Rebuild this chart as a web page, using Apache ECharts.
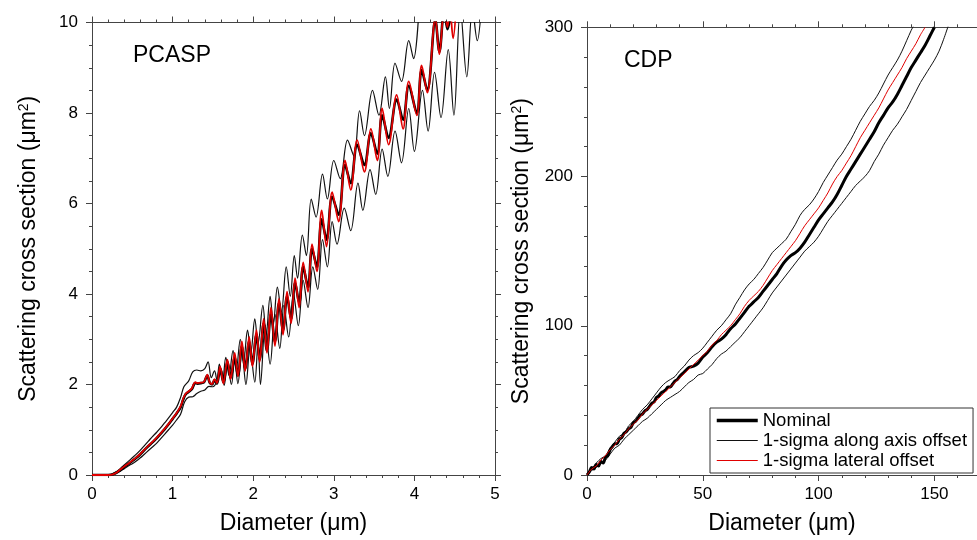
<!DOCTYPE html>
<html>
<head>
<meta charset="utf-8">
<script src="https://cdn.jsdelivr.net/npm/echarts@6/dist/echarts.min.js"></script>
<style>
  html, body { margin: 0; padding: 0; background: #fff; }
  #chart { width: 977px; height: 540px; }
</style>
</head>
<body>
<div id="chart"></div>
<script>
// legend names
const seriesNames = ["Nominal", "1-sigma along axis offset", "1-sigma lateral offset"];

// PCASP: diameter (um), scattering cross section (um^2)
const pcaspNominal = [
  [0,0],[0.1,0],[0.2,0],[0.25,0.01],[0.3,0.05],[0.35,0.11],[0.4,0.18],[0.45,0.24],[0.5,0.31],[0.55,0.38],
  [0.6,0.46],[0.65,0.55],[0.7,0.64],[0.75,0.72],[0.8,0.81],[0.85,0.91],[0.9,1.01],[0.95,1.12],[1.0,1.24],
  [1.05,1.36],[1.1,1.5],[1.13,1.66],[1.16,1.78],[1.2,1.84],[1.24,1.9],[1.28,2.03],[1.31,2.02],[1.35,2.03],
  [1.39,2.05],[1.43,2.2],[1.46,2.04],[1.49,2.0],[1.52,2.1],[1.55,2.02],
  [1.59,2.35],[1.63,2.05],[1.68,2.5],[1.72,2.15],[1.77,2.6],[1.81,2.2],[1.86,2.85],[1.9,2.35],[1.95,2.95],
  [1.99,2.45],[2.04,3.1],[2.08,2.55],[2.13,3.35],[2.17,2.75],[2.22,3.55],[2.27,2.95],[2.32,3.8],[2.37,3.2],
  [2.42,3.95],[2.47,3.45],[2.52,4.25],[2.57,3.8],[2.62,4.6],[2.68,4.15],[2.73,5.0],[2.79,4.6],[2.85,5.65],
  [2.91,5.2],[2.98,6.15],[3.06,5.75],[3.14,6.85],[3.21,6.45],[3.29,7.3],[3.38,6.85],[3.46,7.55],[3.54,7.1],
  [3.6,7.95],[3.68,7.45],[3.78,8.3],[3.86,7.85],[3.93,8.6],[4.03,8.0],[4.09,8.95],[4.16,8.5],[4.26,10.05],
  [4.31,9.35],[4.37,10.3],[4.41,9.85],[4.47,10.4]
];
const pcaspLateral = [
  [0,0],[0.2,0],[0.25,0.01],[0.3,0.05],[0.35,0.12],[0.4,0.19],[0.45,0.25],[0.5,0.32],[0.55,0.39],[0.6,0.47],
  [0.65,0.56],[0.7,0.65],[0.75,0.73],[0.8,0.82],[0.85,0.92],[0.9,1.02],[0.95,1.13],[1.0,1.25],[1.05,1.37],
  [1.1,1.52],[1.13,1.68],[1.16,1.79],[1.2,1.85],[1.24,1.92],[1.28,2.05],[1.31,2.03],[1.35,2.04],[1.39,2.06],
  [1.43,2.22],[1.46,2.05],[1.49,2.01],[1.52,2.12],[1.55,2.03],
  [1.59,2.4],[1.63,2.02],[1.68,2.55],[1.72,2.12],[1.77,2.7],[1.81,2.18],[1.86,2.95],[1.9,2.3],[1.95,3.05],
  [1.99,2.4],[2.04,3.2],[2.08,2.5],[2.13,3.45],[2.17,2.7],[2.22,3.7],[2.27,2.85],[2.32,3.9],[2.37,3.1],
  [2.42,4.05],[2.47,3.35],[2.52,4.35],[2.57,3.7],[2.62,4.7],[2.68,4.05],[2.73,5.1],[2.79,4.5],[2.85,5.85],
  [2.91,5.05],[2.98,6.25],[3.06,5.6],[3.14,6.95],[3.21,6.3],[3.29,7.4],[3.38,6.7],[3.46,7.65],[3.54,6.95],
  [3.6,8.1],[3.68,7.3],[3.78,8.4],[3.86,7.65],[3.93,8.7],[4.03,7.95],[4.09,9.05],[4.16,8.45],[4.26,10.1],
  [4.31,9.3],[4.37,10.3],[4.41,9.9],[4.44,10.3],[4.48,9.65],[4.52,10.4]
];
const pcaspAlongHigh = [
  [0,0],[0.2,0],[0.25,0.02],[0.3,0.07],[0.35,0.14],[0.4,0.22],[0.45,0.3],[0.5,0.38],[0.55,0.46],[0.6,0.55],
  [0.65,0.65],[0.7,0.75],[0.75,0.85],[0.8,0.94],[0.85,1.04],[0.9,1.15],[0.95,1.26],[1.0,1.38],[1.05,1.5],
  [1.1,1.72],[1.14,1.95],[1.2,2.08],[1.25,2.28],[1.3,2.32],[1.35,2.3],[1.4,2.35],[1.44,2.5],[1.48,2.15],
  [1.52,2.3],[1.55,2.1],
  [1.58,2.45],[1.62,2.1],[1.66,2.6],[1.7,2.2],[1.75,2.75],[1.79,2.35],[1.84,3.0],[1.88,2.5],[1.93,3.2],
  [1.97,2.7],[2.02,3.45],[2.06,2.9],[2.12,3.75],[2.16,3.1],[2.21,3.95],[2.25,3.35],[2.3,4.15],[2.35,3.6],
  [2.41,4.6],[2.46,3.95],[2.51,4.85],[2.55,4.35],[2.61,5.3],[2.66,4.85],[2.72,6.1],[2.78,5.7],[2.86,6.65],
  [2.92,6.1],[3.0,6.95],[3.08,6.55],[3.17,7.4],[3.25,7.05],[3.32,8.05],[3.38,7.5],[3.48,8.5],[3.56,7.95],
  [3.64,8.8],[3.69,8.1],[3.76,9.1],[3.84,8.7],[3.93,9.6],[3.99,9.2],[4.06,10.4]
];
const pcaspAlongLow = [
  [0,0],[0.25,0],[0.3,0.03],[0.35,0.08],[0.4,0.14],[0.45,0.2],[0.5,0.25],[0.55,0.31],[0.6,0.38],[0.65,0.46],
  [0.7,0.54],[0.75,0.62],[0.8,0.7],[0.85,0.8],[0.9,0.9],[0.95,1.0],[1.0,1.1],[1.05,1.22],[1.1,1.35],
  [1.15,1.62],[1.2,1.72],[1.25,1.73],[1.3,1.8],[1.35,1.85],[1.4,1.88],[1.45,1.96],[1.5,1.95],[1.55,2.07],
  [1.6,2.35],[1.64,1.98],[1.68,2.45],[1.73,2.0],[1.77,2.55],[1.81,2.02],[1.86,2.7],[1.91,2.0],[1.96,2.8],
  [2.02,2.05],[2.06,2.95],[2.09,2.0],[2.15,3.3],[2.21,2.45],[2.27,3.55],[2.33,2.8],[2.38,3.75],[2.44,3.05],
  [2.5,4.0],[2.56,3.3],[2.62,4.3],[2.68,3.7],[2.74,4.6],[2.8,4.1],[2.86,5.2],[2.92,4.6],[2.98,5.6],[3.04,5.1],
  [3.13,5.9],[3.21,5.4],[3.3,6.45],[3.36,5.85],[3.45,6.75],[3.52,6.2],[3.6,7.2],[3.67,6.6],[3.76,7.6],
  [3.84,6.9],[3.93,8.1],[4.0,7.15],[4.1,8.5],[4.17,7.6],[4.25,8.9],[4.33,7.9],[4.42,9.4],[4.49,7.95],
  [4.57,10.3],[4.65,8.8],[4.72,10.3],[4.78,9.6],[4.83,10.3]
];

// CDP: diameter (um), scattering cross section (um^2)
const cdpNominal = [
  [0,0],[1,2],[2,5],[3,4],[4,7],[5,6],[6,9],[7,8],[8,12],[9,13],[10,17],[11,19],[12,21],[13,21],[14,24],
  [15,25],[16,28],[17,29],[18,31],[19,32],[20,35],[21,36],[22,38],[23,40],[24,41],[25,43],[26,44],[27,46],
  [28,48],[29,49],[30,52],[31,53],[32,55],[33,56],[34,57],[35,59],[36,59],[37,61],[38,63],[39,64],[40,66],
  [42,69],[44,72],[46,73],[48,75],[50,79],[52,82],[54,86],[56,89],[58,91],[60,94],[62,98],[64,101],[66,105],
  [68,109],[70,113],[72,116],[74,119],[76,123],[78,127],[80,131],[82,135],[84,140],[86,144],[88,147],
  [90,149],[92,152],[94,156],[96,161],[98,166],[100,171],[102,175],[104,179],[106,183],[108,188],[110,194],
  [112,200],[114,205],[116,210],[118,215],[120,220],[122,225],[124,230],[126,236],[128,241],[130,246],
  [132,250],[134,255],[136,261],[138,267],[140,273],[142,278],[144,283],[146,288],[148,294],[150,300]
];
const cdpAlongHigh = [
  [0,0],[2,4],[4,8],[6,11],[8,13],[10,18],[12,22],[14,26],[16,28],[18,33],[20,36],[22,40],[24,44],[26,47],
  [28,51],[30,55],[32,59],[34,62],[36,64],[38,66],[40,70],[42,73],[44,77],[46,80],[48,82],[50,85],[52,89],
  [54,93],[56,97],[58,100],[60,104],[62,108],[64,114],[66,119],[68,124],[70,128],[72,131],[74,135],[76,139],
  [78,144],[80,149],[82,152],[84,155],[86,158],[88,163],[90,168],[92,174],[94,178],[96,181],[98,185],
  [100,190],[102,196],[104,201],[106,206],[108,211],[110,215],[112,220],[114,225],[116,231],[118,237],
  [120,242],[122,247],[124,251],[126,256],[128,262],[130,268],[132,273],[134,278],[136,284],[138,291],
  [140,298],[141,301]
];
const cdpAlongLow = [
  [0,0],[2,3],[4,5],[6,8],[8,10],[10,14],[12,18],[14,20],[16,24],[18,27],[20,30],[22,33],[24,36],[26,38],
  [28,41],[30,44],[32,47],[34,50],[36,52],[38,54],[40,56],[42,59],[44,62],[46,64],[48,67],[50,68],[52,71],
  [54,74],[56,78],[58,81],[60,83],[62,86],[64,89],[66,92],[68,96],[70,100],[72,104],[74,108],[76,112],
  [78,117],[80,122],[82,126],[84,130],[86,134],[88,138],[90,142],[92,146],[94,150],[96,153],[98,156],
  [100,160],[102,165],[104,170],[106,174],[108,178],[110,182],[112,186],[114,190],[116,194],[118,197],
  [120,200],[122,204],[124,210],[126,215],[128,221],[130,226],[132,231],[134,235],[136,240],[138,245],
  [140,251],[142,257],[144,263],[146,268],[148,273],[150,278],[152,284],[154,292],[156,301]
];
const cdpLateral = [
  [0,0],[2,4],[4,6],[6,10],[8,13],[10,17],[12,20],[14,24],[16,27],[18,31],[20,34],[22,37],[24,41],[26,44],
  [28,47],[30,50],[32,53],[34,56],[36,59],[38,62],[40,65],[42,68],[44,71],[46,74],[48,77],[50,80],[52,83],
  [54,87],[56,90],[58,94],[60,97],[62,100],[64,104],[66,108],[68,113],[70,117],[72,120],[74,123],[76,127],
  [78,132],[80,137],[82,141],[84,145],[86,149],[88,153],[90,157],[92,162],[94,167],[96,171],[98,175],
  [100,179],[102,184],[104,189],[106,195],[108,200],[110,204],[112,209],[114,214],[116,220],[118,226],
  [120,231],[122,236],[124,241],[126,246],[128,252],[130,258],[132,263],[134,268],[136,273],[138,279],
  [140,284],[142,289],[144,295],[146,300]
];

const FONT = "Liberation Sans, Arial, sans-serif";
const AXIS_COLOR = "#444";

function xAxisFor(gridIndex, pos, max, interval, showLabel) {
  return {
    type: "value", gridIndex: gridIndex, position: pos, min: 0, max: max, interval: interval,
    name: showLabel ? "Diameter (μm)" : "", nameLocation: "middle", nameGap: 37,
    nameTextStyle: { fontSize: 23, color: "#000", fontFamily: FONT },
    axisLine: { show: true, onZero: false, lineStyle: { color: AXIS_COLOR, width: 1 } },
    axisTick: { show: true, inside: false, length: 6, lineStyle: { color: AXIS_COLOR } },
    minorTick: { show: true, splitNumber: 5, length: 3, lineStyle: { color: AXIS_COLOR } },
    axisLabel: { show: showLabel, fontSize: 17, color: "#000", fontFamily: FONT, margin: 11, showMaxLabel: max % interval === 0 },
    splitLine: { show: false }, minorSplitLine: { show: false }
  };
}
function yAxisFor(gridIndex, pos, max, interval, minorSplit, showLabel, nameGap) {
  return {
    type: "value", gridIndex: gridIndex, position: pos, min: 0, max: max, interval: interval,
    name: showLabel ? "{a|Scattering cross section (μm}{b|2}{a|)}" : "",
    nameLocation: "middle", nameGap: nameGap, nameRotate: 90,
    nameTextStyle: {
      color: "#000", fontFamily: FONT,
      rich: {
        a: { fontSize: 23, color: "#000", fontFamily: FONT },
        b: { fontSize: 14, color: "#000", fontFamily: FONT, verticalAlign: "top" }
      }
    },
    axisLine: { show: true, onZero: false, lineStyle: { color: AXIS_COLOR, width: 1 } },
    axisTick: { show: true, inside: false, length: 6, lineStyle: { color: AXIS_COLOR } },
    minorTick: { show: true, splitNumber: minorSplit, length: 3, lineStyle: { color: AXIS_COLOR } },
    axisLabel: { show: showLabel, fontSize: 17, color: "#000", fontFamily: FONT, margin: 14 },
    splitLine: { show: false }, minorSplitLine: { show: false }
  };
}
function line(name, data, xi, yi, color, width, smooth) {
  return {
    name: name, type: "line", xAxisIndex: xi, yAxisIndex: yi, data: data,
    showSymbol: false, symbol: "none", smooth: smooth, clip: true,
    lineStyle: { color: color, width: width }, itemStyle: { color: color },
    emphasis: { disabled: true }
  };
}

const chart = echarts.init(document.getElementById("chart"), null, { renderer: "canvas" });
const option = {
  animation: false,
  backgroundColor: "#fff",
  textStyle: { fontFamily: FONT },
  grid: [
    { left: 92, top: 22.5, width: 403, height: 455.5 },
    { left: 587, top: 27.3, width: 390, height: 450 }
  ],
  xAxis: [
    xAxisFor(0, "bottom", 5, 1, true),
    xAxisFor(0, "top", 5, 1, false),
    xAxisFor(1, "bottom", 168.4, 50, true),
    xAxisFor(1, "top", 168.4, 50, false)
  ],
  yAxis: [
    yAxisFor(0, "left", 10, 2, 4, true, 52),
    yAxisFor(0, "right", 10, 2, 4, false, 0),
    yAxisFor(1, "left", 300, 100, 5, true, 54)
  ],
  legend: {
    data: [
      { name: seriesNames[0], lineStyle: { width: 3.5, color: "#000" } },
      { name: seriesNames[1], lineStyle: { width: 1, color: "#111" } },
      { name: seriesNames[2], lineStyle: { width: 1, color: "#e00000" } }
    ],
    orient: "vertical",
    left: 710, top: 408,
    itemWidth: 41, itemHeight: 14, itemGap: 1,
    padding: [3, 6, 3, 5],
    borderColor: "#333", borderWidth: 1,
    selectedMode: false,
    itemStyle: { opacity: 0 },
    textStyle: { fontSize: 18.5, color: "#000", fontFamily: FONT }
  },
  graphic: [
    { type: "text", left: 133, top: 44, style: { text: "PCASP", font: "23px " + FONT, fill: "#000" } },
    { type: "text", left: 624, top: 49, style: { text: "CDP", font: "23px " + FONT, fill: "#000" } }
  ],
  series: [
    line(seriesNames[1], pcaspAlongHigh, 0, 0, "#111", 1.2, 0.35),
    line(seriesNames[1], pcaspAlongLow, 0, 0, "#111", 1.2, 0.35),
    line(seriesNames[0], pcaspNominal, 0, 0, "#000", 2.6, 0.35),
    line(seriesNames[2], pcaspLateral, 0, 0, "#e00000", 1.8, 0.35),
    line(seriesNames[1], cdpAlongHigh, 2, 2, "#111", 1, 0.3),
    line(seriesNames[1], cdpAlongLow, 2, 2, "#111", 1, 0.3),
    line(seriesNames[0], cdpNominal, 2, 2, "#000", 3, 0.3),
    line(seriesNames[2], cdpLateral, 2, 2, "#e00000", 1, 0.3)
  ]
};
chart.setOption(option);
</script>
</body>
</html>
